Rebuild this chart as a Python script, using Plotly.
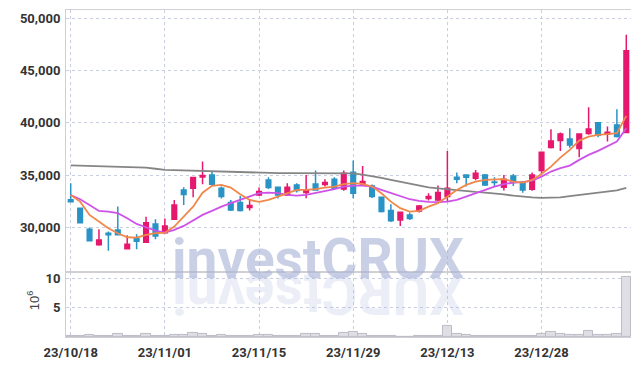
import plotly.graph_objects as go

dates = ["23/10/18","23/10/19","23/10/20","23/10/23","23/10/24","23/10/25","23/10/26","23/10/27","23/10/30","23/10/31",
         "23/11/01","23/11/02","23/11/03","23/11/06","23/11/07","23/11/08","23/11/09","23/11/10","23/11/13","23/11/14",
         "23/11/15","23/11/16","23/11/17","23/11/20","23/11/21","23/11/22","23/11/23","23/11/24","23/11/27","23/11/28",
         "23/11/29","23/11/30","23/12/01","23/12/04","23/12/05","23/12/06","23/12/07","23/12/08","23/12/11","23/12/12",
         "23/12/13","23/12/14","23/12/15","23/12/18","23/12/19","23/12/20","23/12/21","23/12/22","23/12/26","23/12/27",
         "23/12/28","24/01/02","24/01/03","24/01/04","24/01/05","24/01/08","24/01/09","24/01/10","24/01/11","24/01/12"]

open_ = [32620,31820,29808,28333,29425,29741,27950,28908,28563,30316,
         29483,30766,33573,33736,34800,35010,33736,32357,32357,31878,
         33094,34531,33832,33094,34052,33314,34148,34085,34598,33669,
         35269,34148,33956,32874,31590,30699,31178,31561,32740,32615,
         32932,34790,35010,34694,35010,34340,33832,34914,34300,33640,
         35422,37626,38296,38459,37530,38967,40000,38938,39800,39063]
high = [34215,31870,29962,29808,29580,31973,29233,29330,31015,30766,
        30825,32615,33832,34800,36285,35393,33900,32615,32998,32682,
        33794,34790,33900,34215,34215,35010,35422,34598,34790,35422,
        36380,35873,34100,32900,32203,31500,31399,32136,33257,33985,
        37300,35231,35050,35489,35100,34790,35010,35100,34400,35231,
        37250,39388,39063,39484,39000,41496,40030,39638,41304,48420]
low = [32357,30380,28700,28237,27758,29200,27910,27892,28500,28850,
       29400,30700,32136,32874,34119,33956,32740,31561,31495,31590,
       32998,33669,32740,32998,33314,32778,33500,33890,33600,33500,
       32778,33956,32800,31400,30508,30125,30700,31399,32548,32500,
       32453,34215,33890,34500,33950,33890,33506,33950,33300,33500,
       35106,37530,37310,37600,36706,38850,38622,38200,38600,39000]
close = [32450,30440,28716,28783,29290,29291,28371,28659,30440,29166,
         30125,32136,33123,34752,34962,34119,32932,31657,31590,32069,
         33410,33794,33094,33832,33506,33573,33573,34272,33736,35173,
         33257,34368,32932,31495,30632,31437,30824,32041,32932,33314,
         33736,34598,34790,35173,34052,34290,34598,34272,33573,35010,
         37185,38268,38938,37884,38938,39417,38800,39101,38680,46890]

ma_short = [33090,32450,31180,30540,29900,29425,29040,29000,29260,29425,
            29480,30060,31015,31970,33310,33960,34050,33795,33160,32615,
            32420,32615,32930,33257,33573,33573,33640,33795,33890,34120,
            34215,34150,33890,33257,32450,31820,31495,31560,31975,32300,
            32930,33573,34052,34370,34530,34600,34600,34370,34270,34530,
            35106,35805,36670,37405,38296,38680,38842,38910,39005,40662]
ma_mid = [33090,32680,32136,31560,31495,31340,30860,30316,30000,29675,
          29480,29740,30125,30630,31180,31560,31975,32300,32615,32930,
          33257,33315,33257,33094,33030,33094,33257,33410,33640,33890,
          33985,33985,33890,33573,33257,32930,32680,32520,32420,32395,
          32450,32615,32930,33257,33573,33890,34120,34270,34310,34465,
          34850,35330,35650,35900,36450,36925,37310,37720,38200,39484]
ma_long = [35920,35900,35870,35850,35820,35800,35780,35760,35700,35600,
           35490,35460,35430,35400,35370,35350,35310,35270,35230,35200,
           35170,35170,35180,35190,35180,35170,35170,35160,35160,35150,
           35150,35030,34910,34720,34530,34340,34160,33990,33810,33720,
           33620,33540,33460,33380,33320,33260,33140,33020,32900,32850,
           32810,32830,32860,32970,33090,33210,33330,33430,33530,33770]
volume = [0.2,0.15,0.35,0.15,0.1,0.5,0.15,0.1,0.5,0.2,
          0.15,0.35,0.35,0.7,0.5,0.15,0.35,0.15,0.1,0.15,
          0.35,0.3,0.15,0.15,0.1,0.5,0.5,0.15,0.2,0.75,
          0.9,0.5,0.2,0.15,0.15,0.05,0.05,0.2,0.2,0.2,
          1.9,0.5,0.35,0.25,0.25,0.2,0.2,0.2,0.15,0.2,
          0.6,0.85,0.5,0.35,0.35,1.0,0.35,0.35,0.55,10.2]
tick_dates = dates[::10]

UP = "#e5186e"
DOWN = "#2a93c6"
GRID = "#c9cde0"
FRAME = "#cfcfd4"
FONT = "Roboto, Liberation Sans, sans-serif"

fig = go.Figure()
fig.add_trace(go.Bar(x=dates, y=volume, xaxis="x", yaxis="y2",
                     marker=dict(color="#dedee4", line=dict(color="#bdbdc7", width=1)),
                     hoverinfo="skip", showlegend=False))
fig.add_trace(go.Candlestick(x=dates, open=open_, high=high, low=low, close=close,
                             xaxis="x", yaxis="y",
                             increasing=dict(line=dict(color=UP, width=1.5), fillcolor=UP),
                             decreasing=dict(line=dict(color=DOWN, width=1.5), fillcolor=DOWN),
                             showlegend=False))
fig.add_trace(go.Scatter(x=dates, y=ma_long, mode="lines", line=dict(color="#858585", width=1.8),
                         xaxis="x", yaxis="y", showlegend=False))
fig.add_trace(go.Scatter(x=dates, y=ma_mid, mode="lines", line=dict(color="#cf52e8", width=1.8),
                         xaxis="x", yaxis="y", showlegend=False))
fig.add_trace(go.Scatter(x=dates, y=ma_short, mode="lines", line=dict(color="#f0884a", width=1.8),
                         xaxis="x", yaxis="y", showlegend=False))

axis_font = dict(family=FONT, size=13, color="#333333", weight="bold")

fig.update_layout(
    width=631, height=358,
    margin=dict(l=58, r=8, t=2, b=29),
    paper_bgcolor="white", plot_bgcolor="white",
    bargap=0,
    xaxis=dict(type="category", anchor="y2", range=[-0.5, 59.5],
               rangeslider=dict(visible=False),
               tickmode="array", tickvals=tick_dates, ticktext=tick_dates,
               showgrid=True, gridcolor=GRID, griddash="dot", gridwidth=1,
               showline=True, linecolor=FRAME, linewidth=1, mirror="all",
               ticks="", tickfont=axis_font, zeroline=False, ticklabelstandoff=3),
    yaxis=dict(domain=[0.199, 1], range=[25720, 50800],
               tickmode="linear", tick0=30000, dtick=5000, tickformat=",d",
               showgrid=True, gridcolor=GRID, griddash="dot", gridwidth=1,
               showline=True, linecolor=FRAME, linewidth=1, mirror="all",
               ticks="", tickfont=axis_font, zeroline=False, ticklabelstandoff=2),
    yaxis2=dict(domain=[0, 0.199], range=[0, 11.1],
                tickmode="array", tickvals=[5, 10], ticktext=["5", "10"],
                showgrid=True, gridcolor=GRID, griddash="dot", gridwidth=1,
                showline=True, linecolor=FRAME, linewidth=1, mirror="all",
                ticks="", tickfont=axis_font, zeroline=False, ticklabelstandoff=2),
    annotations=[
        dict(text="investCRUX", xref="paper", yref="paper", x=0.446, y=0.239,
             xanchor="center", yanchor="middle", showarrow=False,
             font=dict(family=FONT, size=55, color="rgba(165,176,214,0.6)", weight="bold")),
        dict(text="XURCtsevni", xref="paper", yref="paper", x=0.446, y=0.132,
             xanchor="center", yanchor="middle", showarrow=False, textangle=180,
             font=dict(family=FONT, size=55, color="rgba(180,188,222,0.25)", weight="bold")),
        dict(text="10<sup>6</sup>", xref="paper", yref="paper", x=-0.058, y=0.113,
             xanchor="center", yanchor="middle", showarrow=False, textangle=-90,
             font=dict(family="Liberation Sans, Arial, sans-serif", size=13, color="#444444")),
    ],
)

fig.write_html("out.html")
